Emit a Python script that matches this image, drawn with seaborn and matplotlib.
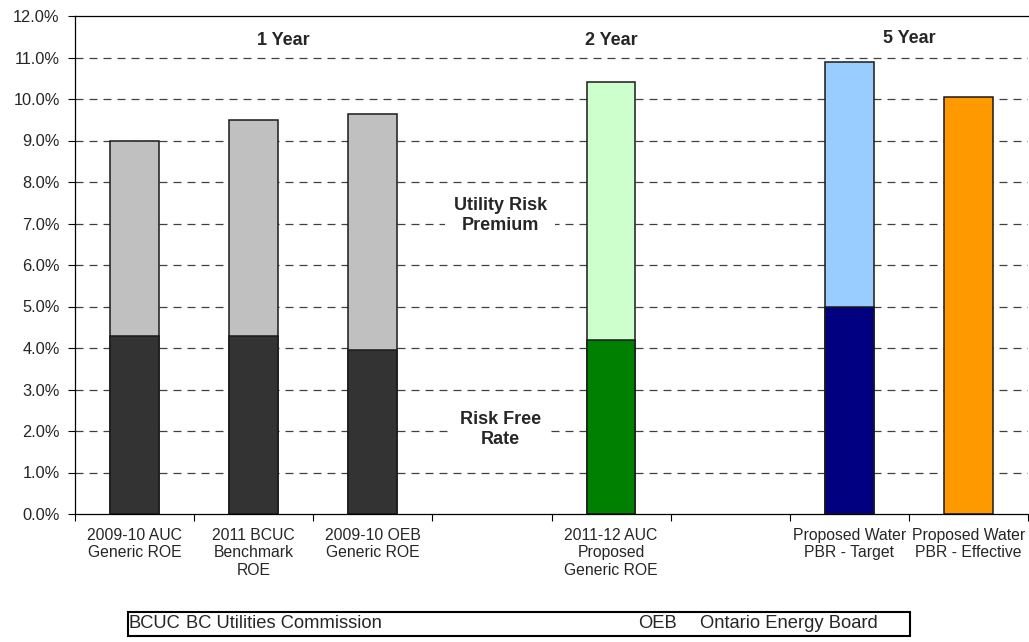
import numpy as np
import pandas as pd
import matplotlib
matplotlib.use("Agg")
import matplotlib.pyplot as plt
import seaborn as sns
from matplotlib.ticker import FixedLocator, PercentFormatter

# Category slots along the x axis (blank slots separate the term groups)
slots = ["2009-10 AUC\nGeneric ROE", "2011 BCUC\nBenchmark\nROE", "2009-10 OEB\nGeneric ROE",
         " ", "2011-12 AUC\nProposed\nGeneric ROE", "  ",
         "Proposed Water\nPBR - Target", "Proposed Water\nPBR - Effective"]

bar_labels = ["2009-10 AUC\nGeneric ROE", "2011 BCUC\nBenchmark\nROE", "2009-10 OEB\nGeneric ROE",
              "2011-12 AUC\nProposed\nGeneric ROE", "Proposed Water\nPBR - Target",
              "Proposed Water\nPBR - Effective"]
total_roe = [9.0, 9.5, 9.65, 10.4, 10.88, 10.05]          # % (top of bar)
risk_free = [4.3, 4.3, 3.95, 4.2, 5.0, np.nan]           # % (lower segment)
premium_colors = ["#C0C0C0", "#C0C0C0", "#C0C0C0", "#CCFFCC", "#99CCFF", "#FF9900"]
base_colors = ["#333333", "#333333", "#333333", "#008000", "#000080", "#FF9900"]

group_titles = ["1 Year", "2 Year", "5 Year"]
group_title_x = [1.25, 4.0, 6.5]
group_title_y = [11.4, 11.4, 11.45]

legend_abbr = ["BCUC", "OEB"]
legend_full = ["BC Utilities Commission", "Ontario Energy Board"]

sns.set_theme(style="white")
plt.rcParams["font.family"] = ["Liberation Sans", "DejaVu Sans"]

df = pd.DataFrame({"label": bar_labels, "total": total_roe, "base": risk_free})

fig = plt.figure(figsize=(10.29, 6.42), dpi=100)
ax = fig.add_axes([75 / 1029, 1 - 514 / 642, 953 / 1029, (514 - 16) / 642])

sns.barplot(data=df, x="label", y="total", hue="label", order=slots, hue_order=bar_labels,
            palette=premium_colors, width=0.41, edgecolor="#1a1a1a", linewidth=1.1,
            saturation=1, legend=False, ax=ax)
base_df = df.dropna(subset=["base"])
sns.barplot(data=base_df, x="label", y="base", hue="label", order=slots,
            hue_order=list(base_df["label"]),
            palette=[c for c, b in zip(base_colors, risk_free) if not np.isnan(b)],
            width=0.41, edgecolor="#1a1a1a", linewidth=1.1, saturation=1, legend=False, ax=ax)

ax.set_xlim(-0.5, len(slots) - 0.5)
ax.set_ylim(0, 12)
ax.set_xlabel("")
ax.set_ylabel("")

# y axis: percent ticks with dashed grid
ax.yaxis.set_major_locator(FixedLocator(np.arange(0, 13, 1)))
ax.yaxis.set_major_formatter(PercentFormatter(decimals=1))
for yv in range(1, 12):
    ax.axhline(yv, color="#404040", linestyle=(0, (6.4, 4.8)), linewidth=0.9, zorder=0)
ax.set_axisbelow(True)

# x axis: tick marks at slot boundaries, labels at slot centres
ax.set_xticks(np.arange(-0.5, len(slots), 1.0))
ax.set_xticklabels([])
ax.set_xticks(np.arange(len(slots)), minor=True)
ax.set_xticklabels(slots, minor=True, fontsize=11.3, linespacing=1.2)
ax.tick_params(axis="x", which="major", direction="out", length=5, width=0.8, color="black", bottom=True)
ax.tick_params(axis="x", which="minor", length=0, pad=10, bottom=True)
ax.tick_params(axis="y", direction="out", length=5, width=0.8, color="black", labelsize=11.8,
               pad=6, left=True)

for side in ["left", "bottom", "top"]:
    ax.spines[side].set_visible(True)
    ax.spines[side].set_color("black")
    ax.spines[side].set_linewidth(0.9)
ax.spines["right"].set_visible(False)

for t, x, y in zip(group_titles, group_title_x, group_title_y):
    ax.text(x, y, t, ha="center", va="center", fontsize=13, fontweight="bold")

box = dict(facecolor="white", edgecolor="none", pad=6)
ax.text(3.07, 7.2, "Utility Risk\nPremium", ha="center", va="center", fontsize=13,
        fontweight="bold", bbox=box, linespacing=1.2)
ax.text(3.07, 2.04, "Risk Free\nRate", ha="center", va="center", fontsize=13,
        fontweight="bold", bbox=box, linespacing=1.2)

# abbreviation key beneath the chart
fig.patches.append(plt.Rectangle((128 / 1029, 1 - 636 / 642), (910 - 128) / 1029, 24 / 642,
                                 transform=fig.transFigure, fill=False, edgecolor="black",
                                 linewidth=1.5))
key_x = [129, 186, 638, 700]
key_text = [legend_abbr[0], legend_full[0], legend_abbr[1], legend_full[1]]
for x, t in zip(key_x, key_text):
    fig.text(x / 1029, 1 - 624 / 642, t, ha="left", va="center", fontsize=13.2,
             family=["Liberation Sans Narrow", "Liberation Sans", "DejaVu Sans"])

fig.savefig("out.png", dpi=100)
